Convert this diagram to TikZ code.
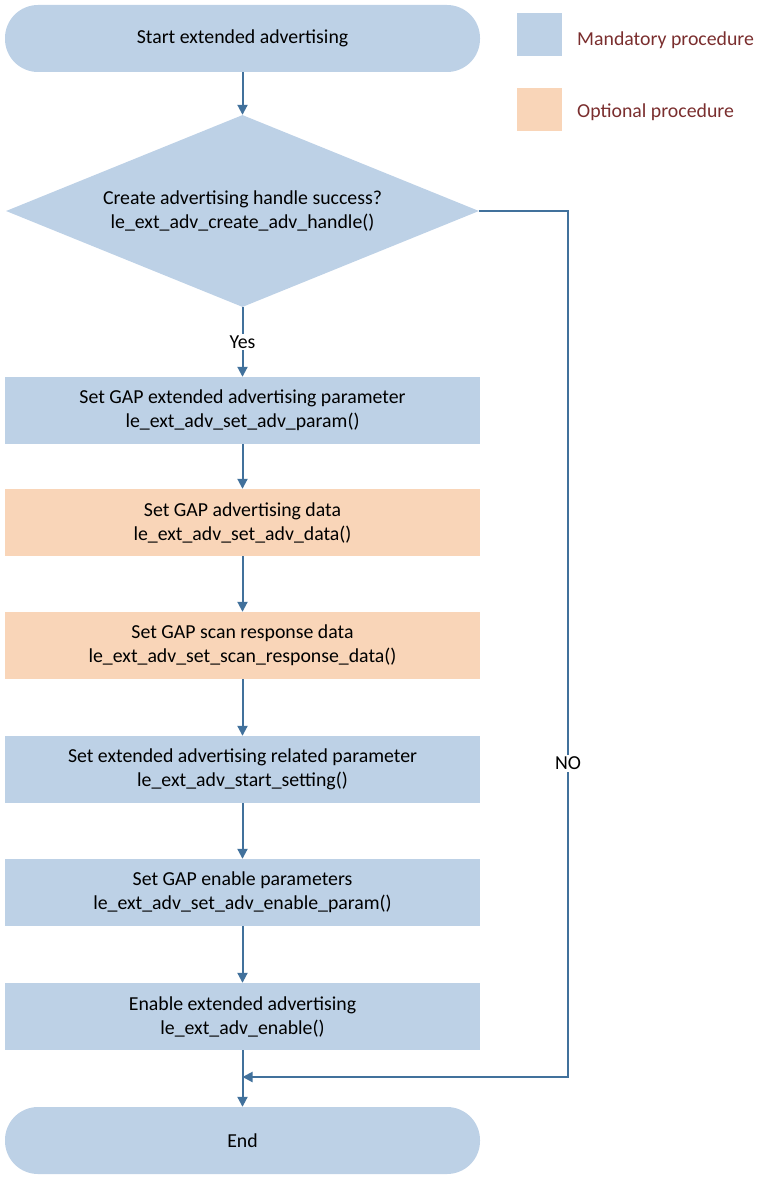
\documentclass[tikz,border=0pt]{standalone}
\usepackage{fontspec}
\setmainfont{Carlito}
\usetikzlibrary{shapes.geometric,arrows.meta}
\definecolor{bl}{HTML}{BDD1E6}
\definecolor{og}{HTML}{F9D5B8}
\definecolor{ln}{HTML}{41719C}
\definecolor{lg}{HTML}{7A2E2E}
\begin{document}
\begin{tikzpicture}[x=1pt,y=-1pt,
  every node/.style={font=\fontsize{19.8}{24}\selectfont},
  box/.style={draw=none,minimum width=475pt,minimum height=67pt,align=center,inner sep=0pt},
  term/.style={box,rounded corners=33pt,fill=bl},
  man/.style={box,fill=bl},
  opt/.style={box,fill=og},
  arr/.style={draw=ln,line width=2pt,-{Triangle[length=10pt,width=10pt]}}]
\useasboundingbox (0,0) rectangle (773,1188);
\node[term] (s) at (242.5,38.5) {Start extended advertising};
\node[diamond,fill=bl,minimum width=473pt,minimum height=192pt,aspect=2.46,inner sep=0pt,align=center] (d) at (242.5,211) {Create advertising handle success?\\le\_ext\_adv\_create\_adv\_handle()};
\node[man] (b1) at (242.5,410.5) {Set GAP extended advertising parameter\\le\_ext\_adv\_set\_adv\_param()};
\node[opt] (b2) at (242.5,522.5) {Set GAP advertising data\\le\_ext\_adv\_set\_adv\_data()};
\node[opt] (b3) at (242.5,645.5) {Set GAP scan response data\\le\_ext\_adv\_set\_scan\_response\_data()};
\node[man] (b4) at (242.5,769.5) {Set extended advertising related parameter\\le\_ext\_adv\_start\_setting()};
\node[man] (b5) at (242.5,892.5) {Set GAP enable parameters\\le\_ext\_adv\_set\_adv\_enable\_param()};
\node[man] (b6) at (242.5,1016.5) {Enable extended advertising\\le\_ext\_adv\_enable()};
\node[term] (e) at (242.5,1140.5) {End};
\node[fill=bl,minimum width=45pt,minimum height=43pt,inner sep=0pt] (l1) at (539.5,34.5) {};
\node[fill=og,minimum width=45pt,minimum height=43pt,inner sep=0pt] (l2) at (539.5,109.5) {};
\node[anchor=west,text=lg,inner sep=0pt] (t1) at (577,40) {Mandatory procedure};
\node[anchor=west,text=lg,inner sep=0pt] (t2) at (577,112) {Optional procedure};
\draw[arr] (s) -- (d);
\draw[arr] (d) -- node[fill=white,inner sep=2pt] (yes) {Yes} (b1);
\draw[arr] (b1) -- (b2);
\draw[arr] (b2) -- (b3);
\draw[arr] (b3) -- (b4);
\draw[arr] (b4) -- (b5);
\draw[arr] (b5) -- (b6);
\draw[arr] (b6) -- (e);
\coordinate (j) at (242.5,1077);
\draw[arr] (d.east) -| (568,1077) -- (j);
\node[fill=white,inner sep=2pt] (no) at (568,763) {NO};
\end{tikzpicture}
\end{document}
